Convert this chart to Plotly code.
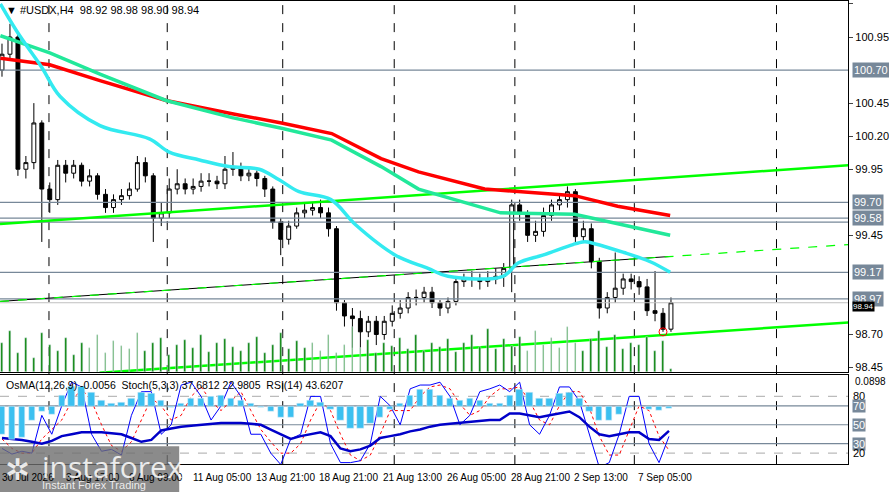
import numpy as np
import plotly.graph_objects as go

# ---- price data (H4 candles, one every ~2 real bars) ----
closes = [100.82, 100.95, 99.95, 100.00, 100.30, 99.80, 99.72, 99.98, 99.92, 99.98,
          99.86, 99.90, 99.76, 99.66, 99.72, 99.75, 99.80, 100.00, 99.90, 99.58,
          99.62, 99.80, 99.84, 99.80, 99.82, 99.86, 99.86, 99.84, 99.95, 99.96,
          99.90, 99.92, 99.88, 99.80, 99.55, 99.42, 99.52, 99.62, 99.64, 99.66,
          99.62, 99.50, 98.94, 98.84, 98.82, 98.72, 98.80, 98.70, 98.80, 98.86,
          98.90, 98.98, 98.98, 99.02, 98.94, 98.90, 98.95, 99.10, 99.12, 99.12,
          99.10, 99.12, 99.14, 99.20, 99.68, 99.62, 99.45, 99.48, 99.60, 99.68,
          99.72, 99.78, 99.44, 99.50, 99.25, 98.90, 98.98, 99.05, 99.12, 99.10,
          99.06, 98.88, 98.86, 98.74, 98.94]
opens = [100.70] + closes[:-1]
highs = [100.90, 101.05, 100.97, 100.05, 100.45, 100.32, 99.85, 100.02, 100.02, 100.02,
         100.00, 99.95, 99.92, 99.80, 99.76, 99.80, 99.85, 100.05, 100.04, 99.92,
         99.70, 99.88, 99.95, 99.88, 99.88, 99.92, 99.92, 99.90, 100.05, 100.08,
         100.00, 99.96, 99.94, 99.90, 99.82, 99.58, 99.56, 99.66, 99.70, 99.70,
         99.72, 99.66, 99.52, 98.96, 98.90, 98.88, 98.84, 98.84, 98.84, 98.92,
         98.96, 99.02, 99.04, 99.06, 99.06, 98.96, 98.98, 99.14, 99.16, 99.18,
         99.16, 99.18, 99.20, 99.24, 99.72, 99.72, 99.64, 99.56, 99.66, 99.72,
         99.76, 99.82, 99.80, 99.56, 99.54, 99.28, 99.02, 99.32, 99.16, 99.16,
         99.14, 99.12, 99.18, 98.90, 98.98]
lows = [100.65, 100.78, 99.90, 99.88, 99.95, 99.40, 99.62, 99.68, 99.85, 99.88,
        99.82, 99.82, 99.72, 99.62, 99.62, 99.68, 99.72, 99.78, 99.85, 99.40,
        99.52, 99.58, 99.76, 99.76, 99.76, 99.78, 99.82, 99.80, 99.80, 99.90,
        99.86, 99.86, 99.82, 99.74, 99.50, 99.30, 99.38, 99.50, 99.58, 99.60,
        99.58, 99.44, 98.88, 98.76, 98.60, 98.60, 98.68, 98.62, 98.66, 98.76,
        98.82, 98.86, 98.92, 98.94, 98.90, 98.84, 98.86, 98.92, 99.06, 99.06,
        99.04, 99.06, 99.08, 99.06, 99.02, 99.56, 99.40, 99.40, 99.44, 99.56,
        99.64, 99.66, 99.40, 99.40, 99.20, 98.82, 98.86, 98.94, 99.00, 99.04,
        99.00, 98.84, 98.80, 98.72, 98.72]
volumes = [30, 42, 20, 35, 15, 40, 28, 22, 35, 18, 30, 25, 38, 20, 32, 27, 24, 40, 22, 30,
           35, 18, 28, 33, 25, 38, 21, 30, 34, 26, 22, 30, 36, 20, 28, 40, 24, 32, 25, 30,
           22, 38, 20, 28, 46, 25, 33, 20, 30, 27, 35, 24, 38, 22, 30, 26, 34, 21, 30, 38,
           26, 44, 24, 34, 27, 36, 22, 42, 28, 35, 25, 46, 30, 22, 34, 42, 26, 38, 24, 30,
           28, 36, 22, 32, 4]
bars = list(range(len(closes)))

# ---- moving averages, read at sample bars ----
fast_ma_x = [-0.2, 2, 5, 7.3, 12.3, 18.5, 21, 24.8, 28.5, 32.3, 34.8, 37.3, 41.3, 44.4, 49.4, 53.5, 56, 62.9, 64.8, 67.9, 71.7, 72.9, 73.5, 78.1, 81.4, 83.9]
fast_ma = [101.20, 100.98, 100.72, 100.50, 100.28, 100.18, 100.08, 100.02, 99.97, 99.95, 99.87, 99.78, 99.72, 99.53, 99.30, 99.20, 99.14, 99.14, 99.24, 99.30, 99.38, 99.40, 99.40, 99.32, 99.25, 99.17]
mid_ma_x = [-0.2, 6, 12.3, 20.6, 28.9, 35.1, 41.4, 47.6, 52.3, 62.6, 71.9, 77.3, 83.9]
mid_ma = [100.96, 100.83, 100.67, 100.47, 100.34, 100.26, 100.17, 99.97, 99.80, 99.62, 99.61, 99.54, 99.45]
slow_ma_x = [-0.2, 6, 12.3, 20.6, 28.9, 35.1, 41.4, 47.6, 52.3, 60.6, 71.9, 77.3, 83.9]
slow_ma = [100.79, 100.74, 100.62, 100.47, 100.37, 100.30, 100.22, 100.03, 99.93, 99.80, 99.75, 99.67, 99.60]

# ---- trend lines and levels ----
upper_line_x, upper_line_y = [-0.25, 106.25], [99.535, 99.98]
lower_line_x, lower_line_y = [12.25, 106.25], [98.41, 98.79]
mid_line_x, mid_line_y = [-0.25, 83.9], [98.95, 99.29]
mid_ext_x, mid_ext_y = [-0.25, 106.25], [98.95, 99.38]
levels = [100.70, 99.70, 99.58, 99.55, 99.17, 98.97]
level_tags = [100.70, 99.70, 99.58, 99.17, 98.97]
last_price = 98.94
price_ticks = [101.20, 100.95, 100.45, 100.20, 99.95, 99.45, 98.70, 98.45]

# ---- oscillators, sampled every 1.25 bars ----
osma = [-0.10, -0.12, -0.11, -0.05, -0.02, -0.03, 0.04, 0.07, 0.07, 0.05,
        0.02, 0.01, 0.015, 0.03, 0.05, 0.045, 0.02, -0.005, 0.01, 0.03,
        0.03, 0.035, 0.04, 0.03, 0.02, 0.01, -0.005, -0.02, -0.04, -0.04,
        0.01, 0.02, 0.015, -0.01, -0.05, -0.08, -0.08, -0.06, -0.04, -0.01,
        0.01, 0.04, 0.06, 0.06, 0.04, 0.03, 0.02, 0.03, 0.02, 0.01,
        0.01, 0.04, 0.06, 0.05, 0.03, 0.03, 0.045, 0.05, 0.03, -0.02,
        -0.05, -0.05, -0.03, -0.005, 0.0, -0.01, -0.015, -0.006]
stoch = [25, 19, 22, 20, 60, 40, 70, 95, 90, 40,
         22, 24, 18, 60, 85, 85, 40, 50, 92, 95,
         80, 55, 70, 95, 80, 40, 40, 20, 8, 35,
         40, 80, 80, 30, 10, 10, 12, 30, 80, 70,
         50, 88, 92, 92, 95, 80, 50, 60, 85, 88,
         92, 85, 95, 50, 40, 60, 90, 90, 75, 40,
         5, 10, 40, 80, 80, 30, 10, 37.7]
stoch_sig = [35, 25, 20, 20, 35, 45, 55, 75, 88, 75,
             50, 28, 22, 32, 55, 78, 70, 55, 60, 80,
             90, 75, 65, 75, 85, 65, 45, 32, 20, 20,
             30, 55, 75, 65, 40, 18, 12, 18, 40, 65,
             65, 65, 80, 90, 92, 88, 72, 60, 65, 80,
             88, 88, 90, 75, 55, 50, 70, 85, 85, 68,
             38, 18, 18, 45, 70, 65, 38, 23]
rsi = [36, 35, 34, 32, 30, 33, 38, 40, 42, 42,
       42, 41, 40, 36, 32, 34, 44, 46, 48, 49,
       50, 51, 52, 52, 52, 51, 50, 45, 40, 35,
       38, 40, 42, 38, 25, 22, 24, 28, 36, 38,
       40, 43, 45, 48, 50, 51, 52, 53, 54, 55,
       55, 62, 62, 60, 58, 60, 62, 64, 58, 48,
       40, 38, 40, 42, 42, 35, 34, 43.6]
ind_x = np.arange(len(osma)) * 1.25

vgrid = [5.9, 20.75, 35.25, 49.25, 64.4, 79.4, 97.25]
time_labels = ['30 Jul 2026', '3 Aug 17:00', '6 Aug 09:00', '11 Aug 05:00', '13 Aug 21:00',
               '18 Aug 21:00', '21 Aug 13:00', '26 Aug 05:00', '28 Aug 21:00', '2 Sep 13:00',
               '7 Sep 05:00']
time_label_x = [-0.25, 7.75, 15.75, 23.75, 31.6, 39.6, 47.6, 55.6, 63.6, 71.6, 79.6]

W, H = 889, 493
FONT = 'Liberation Sans'
px_per_bar = 8
x_rng = [-0.25, (852 - 2) / px_per_bar]
main_dom = [1 - 373 / H, 1]
ind_dom = [1 - 465 / H, 1 - 376 / H]
grey = '#778899'

fig = go.Figure()

# volume bars
fig.add_trace(go.Bar(x=bars, y=volumes, marker_color='#008000', width=0.22,
                     yaxis='y3', xaxis='x', showlegend=False))

# horizontal levels
for lv in levels:
    fig.add_trace(go.Scatter(x=x_rng, y=[lv, lv], mode='lines', line=dict(color=grey, width=1.2),
                             showlegend=False, hoverinfo='skip'))
fig.add_trace(go.Scatter(x=x_rng, y=[last_price, last_price], mode='lines',
                         line=dict(color='#c0c0c0', width=1), showlegend=False))

# trend lines
fig.add_trace(go.Scatter(x=upper_line_x, y=upper_line_y, mode='lines', line=dict(color='#00ff00', width=2.5), showlegend=False))
fig.add_trace(go.Scatter(x=lower_line_x, y=lower_line_y, mode='lines', line=dict(color='#00ff00', width=2.5), showlegend=False))
fig.add_trace(go.Scatter(x=mid_line_x, y=mid_line_y, mode='lines', line=dict(color='black', width=1), showlegend=False))
fig.add_trace(go.Scatter(x=mid_ext_x, y=mid_ext_y, mode='lines', line=dict(color='#00ff00', width=1.2, dash='dash'), showlegend=False))

# moving averages
fig.add_trace(go.Scatter(x=slow_ma_x, y=slow_ma, mode='lines', line=dict(color='#ff0000', width=3.5), showlegend=False))
fig.add_trace(go.Scatter(x=mid_ma_x, y=mid_ma, mode='lines', line=dict(color='#22e89a', width=3.5), showlegend=False))
fig.add_trace(go.Scatter(x=fast_ma_x, y=fast_ma, mode='lines', line=dict(color='#33eaf0', width=3.5, shape='spline'), showlegend=False))

# candles
fig.add_trace(go.Candlestick(
    x=bars, open=opens, high=highs, low=lows, close=closes,
    increasing=dict(line=dict(color='black', width=1), fillcolor='white'),
    decreasing=dict(line=dict(color='black', width=1), fillcolor='black'),
    whiskerwidth=0, showlegend=False))

# current low marker
fig.add_trace(go.Scatter(x=[83], y=[98.72], mode='markers',
                         marker=dict(symbol='circle-open', color='red', size=8), showlegend=False))

# oscillator pane
fig.add_trace(go.Bar(x=ind_x, y=osma, marker_color='#3cc0f0', width=0.8,
                     xaxis='x2', yaxis='y4', showlegend=False))
for lv, dash in [(80, 'dash'), (70, 'solid'), (50, 'solid'), (30, 'solid'), (20, 'dash')]:
    fig.add_trace(go.Scatter(x=x_rng, y=[lv, lv], mode='lines', xaxis='x2', yaxis='y2',
                             line=dict(color=grey if dash == 'solid' else '#bbbbbb', width=1.2, dash=dash),
                             showlegend=False))
fig.add_trace(go.Scatter(x=ind_x, y=stoch_sig, mode='lines', xaxis='x2', yaxis='y2',
                         line=dict(color='red', width=1, dash='dot'), showlegend=False))
fig.add_trace(go.Scatter(x=ind_x, y=stoch, mode='lines', xaxis='x2', yaxis='y2',
                         line=dict(color='#0000ff', width=1), showlegend=False))
fig.add_trace(go.Scatter(x=ind_x, y=rsi, mode='lines', xaxis='x2', yaxis='y2',
                         line=dict(color='#0000c8', width=2.5), showlegend=False))

p_per_px = 0.007534
main_rng = [101.20 - 370 * p_per_px, 101.20 + 3 * p_per_px]
osma_per_px = 0.301 / 84
osma_rng = [-0.2112 + 1 * osma_per_px, 0.0898 + 6 * osma_per_px]
rsi_rng = [(473 - 465) / 0.95, (473 - 376) / 0.95]

fig.update_layout(
    width=W, height=H, margin=dict(l=0, r=0, t=0, b=0),
    paper_bgcolor='white', plot_bgcolor='white',
    font=dict(family=FONT, size=11, color='black'),
    bargap=0,
    xaxis=dict(domain=[0, 852 / W], range=x_rng, anchor='y', showgrid=False, showticklabels=False,
               rangeslider=dict(visible=False), showline=True, mirror=True, linecolor='black', zeroline=False),
    xaxis2=dict(domain=[0, 852 / W], range=x_rng, anchor='y2', showgrid=False, showticklabels=False,
                showline=True, mirror=True, linecolor='black', zeroline=False),
    yaxis=dict(domain=main_dom, range=main_rng, side='right', tickvals=price_ticks,
               ticktext=[f'{v:.2f}' for v in price_ticks], ticks='outside', ticklen=4,
               showgrid=False, zeroline=False, showline=True, linecolor='black',
               tickfont=dict(size=11, family=FONT)),
    yaxis3=dict(overlaying='y', range=[0, 373], visible=False),
    yaxis2=dict(domain=ind_dom, range=rsi_rng, side='right', showticklabels=False, ticks='',
                showgrid=False, zeroline=False, showline=True, linecolor='black'),
    yaxis4=dict(overlaying='y2', range=osma_rng, visible=False),
)

for t in vgrid:
    fig.add_shape(type='line', xref='x', yref='paper', x0=t, x1=t, y0=ind_dom[0], y1=1,
                  line=dict(color='black', width=1, dash='dash'), layer='below')

# right side price tags
for lv in level_tags:
    fig.add_annotation(x=856 / W, xref='paper', xanchor='left', y=lv, yref='y', text=f'{lv:.2f}',
                       showarrow=False, bgcolor=grey, font=dict(color='white', size=11), borderpad=1)
fig.add_annotation(x=856 / W, xref='paper', xanchor='left', y=last_price - 0.025, yref='y',
                   text=f'{last_price:.2f}', showarrow=False, bgcolor='black',
                   font=dict(color='white', size=8), borderpad=0)

# oscillator scale labels
for lv in [80, 70, 50, 30, 20]:
    fig.add_annotation(x=856 / W, xref='paper', xanchor='left', y=lv, yref='y2', text=str(lv),
                       showarrow=False, font=dict(size=11, color='white' if lv in (70, 50, 30) else 'black'),
                       bgcolor=grey if lv in (70, 50, 30) else 'rgba(0,0,0,0)',
                       borderpad=0)
fig.add_annotation(x=857 / W, xref='paper', xanchor='left', y=0.0898, yref='y4', text='0.0898',
                   showarrow=False, font=dict(size=10))
fig.add_annotation(x=855 / W, xref='paper', xanchor='left', y=-0.2112, yref='y4', text='-0.2112',
                   showarrow=False, font=dict(size=10))

# time axis labels
for lab, tx in zip(time_labels, time_label_x):
    fig.add_annotation(x=tx, xref='x', xanchor='left', y=1 - 471 / H, yref='paper', yanchor='top',
                       text=lab, showarrow=False, font=dict(size=10))

# titles
fig.add_annotation(x=4 / W, xref='paper', xanchor='left', y=1 - 1 / H, yref='paper', yanchor='top',
                   text='▼ #USDX,H4  98.92 98.98 98.90 98.94', showarrow=False, font=dict(size=11))
fig.add_annotation(x=4 / W, xref='paper', xanchor='left', y=1 - 378 / H, yref='paper', yanchor='top',
                   text='OsMA(12,26,9) -0.0056  Stoch(5,3,3) 37.6812 22.9805  RSI(14) 43.6207',
                   showarrow=False, font=dict(size=10.5))

# watermark
fig.add_shape(type='rect', xref='paper', yref='paper', x0=0, x1=180 / W, y0=0, y1=1 - 447 / H,
              fillcolor='rgba(110,110,110,0.8)', line=dict(width=0))
fig.add_annotation(x=40 / W, xref='paper', xanchor='left', y=1 - 445 / H, yref='paper', yanchor='top',
                   text='instaforex', showarrow=False,
                   font=dict(size=30, color='rgba(255,255,255,0.85)', family='Open Sans'))
fig.add_annotation(x=40 / W, xref='paper', xanchor='left', y=1 - 478 / H, yref='paper', yanchor='top',
                   text='Instant Forex Trading', showarrow=False,
                   font=dict(size=11, color='rgba(255,255,255,0.85)'))
fig.add_annotation(x=18 / W, xref='paper', xanchor='center', y=1 - 470 / H, yref='paper', yanchor='middle',
                   text='✲', showarrow=False, font=dict(size=30, color='rgba(255,255,255,0.85)'))

fig.write_html('out.html', config={'displayModeBar': False},
               post_script="document.body.style.margin='0';")
